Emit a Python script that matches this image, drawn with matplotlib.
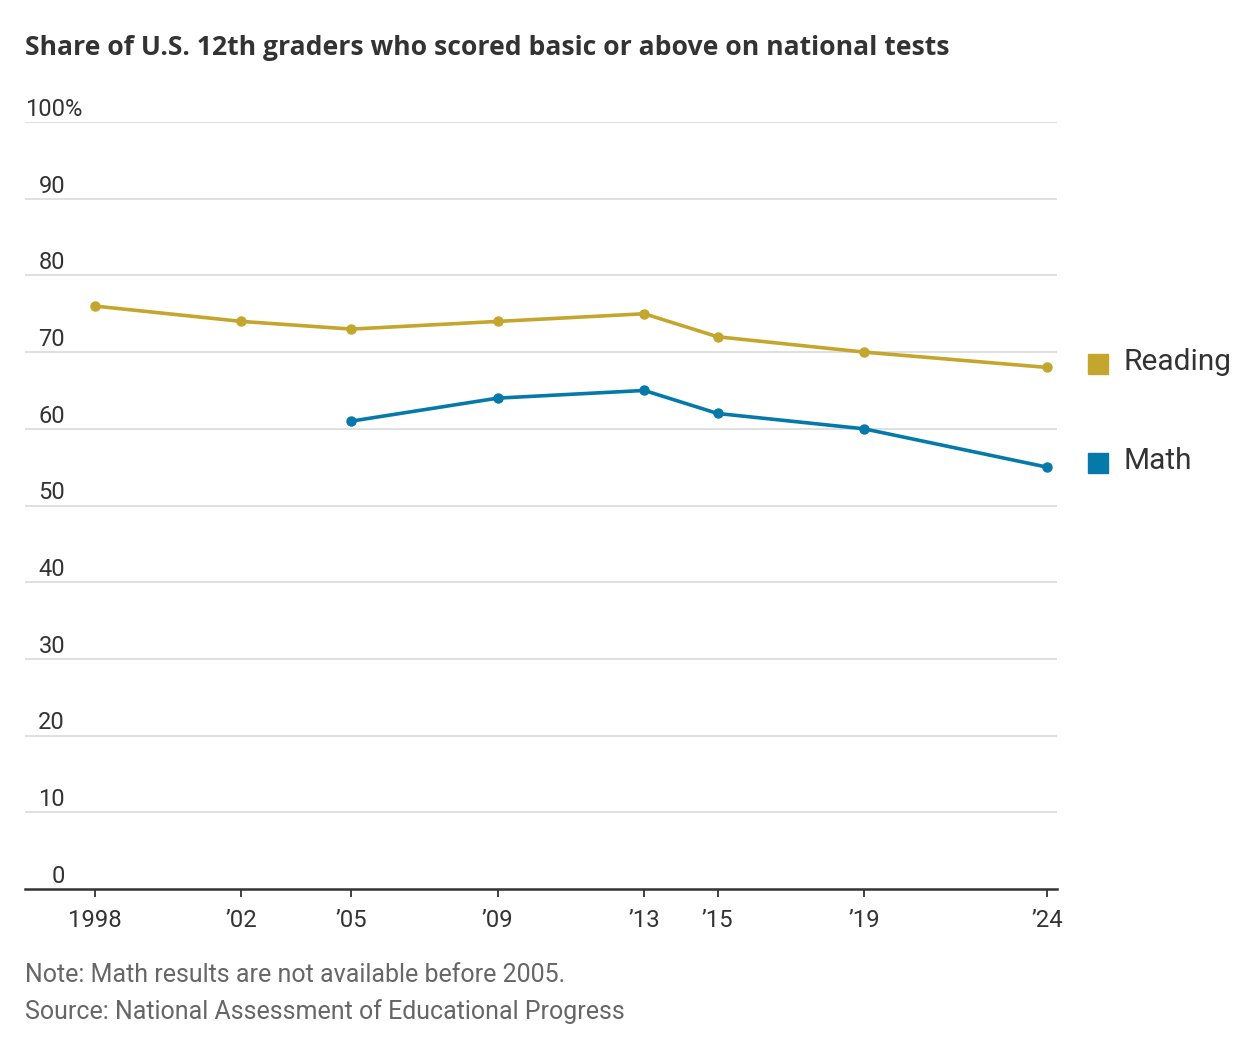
import matplotlib.pyplot as plt

years = [1998, 2002, 2005, 2009, 2013, 2015, 2019, 2024]
year_labels = ["1998", "\u201902", "\u201905", "\u201909", "\u201913", "\u201915", "\u201919", "\u201924"]
reading = [76, 74, 73, 74, 75, 72, 70, 68]
math_years = [2005, 2009, 2013, 2015, 2019, 2024]
math = [61, 64, 65, 62, 60, 55]
y_ticks = [0, 10, 20, 30, 40, 50, 60, 70, 80, 90, 100]

READ_C = "#C4A62E"
MATH_C = "#0679AB"
TXT = "#333333"
GREY = "#666666"

body = ["Roboto", "DejaVu Sans"]
bold = ["Open Sans", "DejaVu Sans"]

fig = plt.figure(figsize=(12.56, 10.44), dpi=100)
ax = fig.add_axes([25 / 1256, 1 - 889 / 1044, 1032 / 1256, (889 - 122) / 1044])

ax.plot(years, reading, color=READ_C, lw=2.6, marker="o", ms=6.5, clip_on=False, zorder=3)
ax.plot(math_years, math, color=MATH_C, lw=2.6, marker="o", ms=6.5, clip_on=False, zorder=3)

ax.set_xlim(1996.09, 2024.27)
ax.set_ylim(0, 100)

for v in y_ticks[1:]:
    ax.axhline(v, color="#DDDDDD", lw=1.3, zorder=1)

for s in ["top", "right", "left"]:
    ax.spines[s].set_visible(False)
ax.spines["bottom"].set_color(TXT)
ax.spines["bottom"].set_linewidth(1.8)

ax.set_yticks([])
ax.set_xticks(years)
ax.set_xticklabels(year_labels, family=body, fontsize=17.2, color=TXT)
ax.tick_params(axis="x", length=6, width=1.3, color=TXT, pad=8.5)

# y labels sit above the grid lines, numbers right-aligned
xr = (65 - 25) / 1032
for v in y_ticks:
    ax.text(xr, v + 0.15, str(v), transform=ax.get_yaxis_transform(), ha="right", va="bottom",
            family=body, fontsize=17, color=TXT)
ax.text(xr, 100.15, "%", transform=ax.get_yaxis_transform(), ha="left", va="bottom",
        family=body, fontsize=17, color=TXT)

fig.text(25 / 1256, 1 - 48 / 1044, "Share of U.S. 12th graders who scored basic or above on national tests",
         family=bold, fontweight="bold", fontsize=19.1, color=TXT, va="center", ha="left")

# legend
fig.patches.append(plt.Rectangle((1088 / 1256, 1 - 374 / 1044), 20 / 1256, 20 / 1044,
                                 transform=fig.transFigure, color=READ_C))
fig.patches.append(plt.Rectangle((1088 / 1256, 1 - 473 / 1044), 20 / 1256, 20 / 1044,
                                 transform=fig.transFigure, color=MATH_C))
fig.text(1123 / 1256, 1 - 362 / 1044, "Reading", family=body, fontsize=21.5, color=TXT, va="center")
fig.text(1123 / 1256, 1 - 461 / 1044, "Math", family=body, fontsize=21.5, color=TXT, va="center")

fig.text(25 / 1256, 1 - 975 / 1044, "Note: Math results are not available before 2005.",
         family=body, fontsize=18, color=GREY, va="center")
fig.text(25 / 1256, 1 - 1012 / 1044, "Source: National Assessment of Educational Progress",
         family=body, fontsize=18, color=GREY, va="center")

fig.savefig("out.png", dpi=100)
